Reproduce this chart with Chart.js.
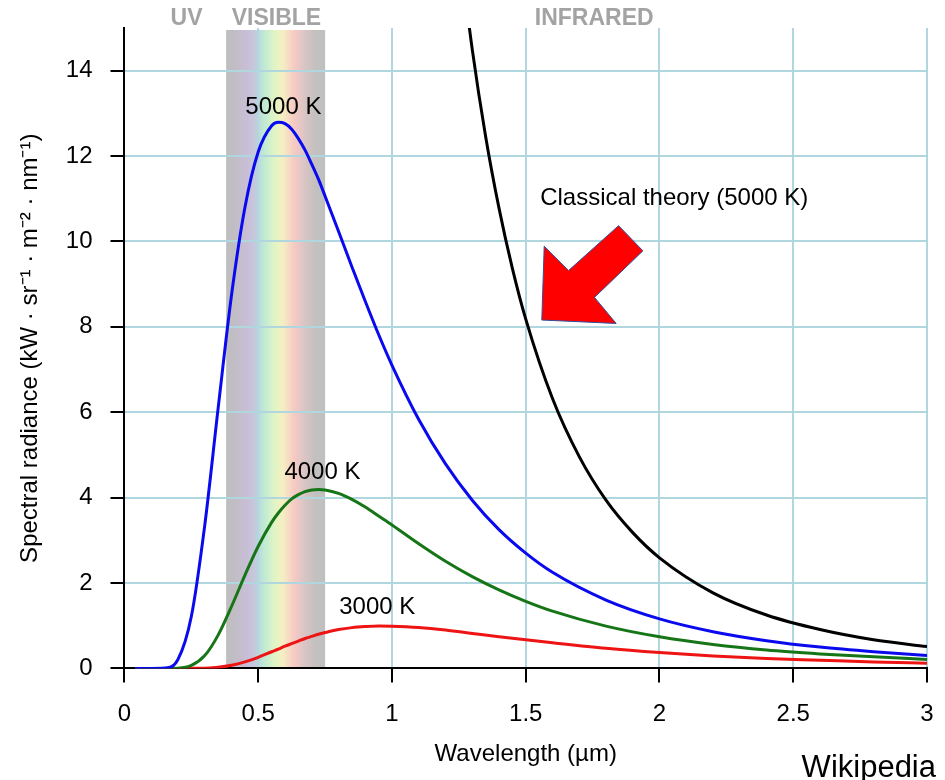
<!DOCTYPE html>
<html>
<head>
<meta charset="utf-8">
<script src="https://cdn.jsdelivr.net/npm/chart.js@4.4.0/dist/chart.umd.min.js"></script>
<style>
  html, body { margin: 0; padding: 0; background: #fff; }
</style>
</head>
<body>
<canvas id="planckChart" width="945" height="780"></canvas>
<script>
// wavelength in micrometres, radiance in kW·sr⁻¹·m⁻²·nm⁻¹
const wavelengths = [0.04, 0.1, 0.15, 0.2, 0.25, 0.3, 0.35, 0.4, 0.45, 0.5, 0.55, 0.575, 0.6, 0.625, 0.65, 0.675, 0.7, 0.725, 0.75, 0.8, 0.85, 0.9, 0.95, 1.0,
    1.1, 1.2, 1.3, 1.4, 1.5, 1.6, 1.8, 2.0, 2.2, 2.4, 2.6, 2.8, 3.0];
const radiance5000 = [0, 0, 0.007, 0.21, 1.22, 3.35, 6.09, 8.74, 10.79, 12.10, 12.71, 12.79, 12.76, 12.63, 12.41, 12.14, 11.81, 11.46, 11.06, 10.24, 9.41, 8.60, 7.82, 7.10,
    5.83, 4.79, 3.94, 3.25, 2.70, 2.25, 1.60, 1.16, 0.86, 0.65, 0.50, 0.39, 0.30];
const radiance4000 = [0, 0, 0, 0.006, 0.069, 0.30, 0.78, 1.45, 2.18, 2.86, 3.42, 3.64, 3.82, 3.97, 4.07, 4.14, 4.18, 4.193, 4.18, 4.10, 3.96, 3.78, 3.57, 3.36,
    2.92, 2.51, 2.15, 1.84, 1.57, 1.34, 0.99, 0.74, 0.56, 0.43, 0.34, 0.27, 0.21];
const radiance3000 = [0, 0, 0, 0, 0.001, 0.006, 0.025, 0.072, 0.152, 0.26, 0.39, 0.45, 0.52, 0.58, 0.64, 0.70, 0.75, 0.80, 0.84, 0.91, 0.955, 0.98, 0.994, 0.99,
    0.96, 0.90, 0.82, 0.74, 0.67, 0.60, 0.47, 0.37, 0.29, 0.23, 0.19, 0.15, 0.12];

const classicalWavelengths = [1.25, 1.3, 1.35, 1.4, 1.45, 1.5, 1.6, 1.7, 1.8, 1.9, 2.0, 2.2, 2.4, 2.6, 2.8, 3.0];
const classical5000 = [16.96, 14.50, 12.46, 10.78, 9.37, 8.18, 6.32, 4.96, 3.94, 3.18, 2.59, 1.77, 1.25, 0.91, 0.67, 0.51];

const seriesNames = ['5000 K', '4000 K', '3000 K', 'Classical theory (5000 K)'];
const bandNames = ['UV', 'VISIBLE', 'INFRARED'];
const visibleRange = [0.38, 0.75];

const fontFamily = '"Liberation Sans", Arial, sans-serif';
const gridColor = '#b0d6e0';

function toPoints(xs, ys) {
    return xs.map((x, i) => ({ x: x, y: ys[i] }));
}

const spectrumPlugin = {
    id: 'spectrum',
    beforeDraw(chart) {
        const { ctx, chartArea, scales } = chart;
        const left = scales.x.getPixelForValue(visibleRange[0]);
        const right = scales.x.getPixelForValue(visibleRange[1]);
        const grad = ctx.createLinearGradient(left, 0, right, 0);
        grad.addColorStop(0.00, '#bebebe');
        grad.addColorStop(0.08, '#c0bdc4');
        grad.addColorStop(0.22, '#c9bed8');
        grad.addColorStop(0.31, '#c2cedc');
        grad.addColorStop(0.38, '#bdead4');
        grad.addColorStop(0.48, '#def4c6');
        grad.addColorStop(0.57, '#f5f0c2');
        grad.addColorStop(0.68, '#f8cbc4');
        grad.addColorStop(0.80, '#d8c4c4');
        grad.addColorStop(0.90, '#c4c0c0');
        grad.addColorStop(1.00, '#c0bfbf');
        ctx.save();
        ctx.fillStyle = grad;
        ctx.fillRect(left, chartArea.top + 2, right - left, chartArea.bottom - chartArea.top - 2);
        ctx.restore();
    },
    afterDatasetsDraw(chart) {
        const { ctx, scales } = chart;
        const px = v => scales.x.getPixelForValue(v);
        const py = v => scales.y.getPixelForValue(v);
        ctx.save();

        // red arrow pointing at the classical curve
        const arrow = [[1.560, 8.16], [1.838, 8.08], [1.757, 8.69], [1.938, 9.78], [1.847, 10.37], [1.660, 9.32], [1.569, 9.89]];
        ctx.beginPath();
        arrow.forEach((p, i) => {
            if (i === 0) ctx.moveTo(px(p[0]), py(p[1]));
            else ctx.lineTo(px(p[0]), py(p[1]));
        });
        ctx.closePath();
        ctx.fillStyle = '#ff0000';
        ctx.fill();
        ctx.strokeStyle = '#2f4f9a';
        ctx.lineWidth = 1;
        ctx.stroke();

        ctx.fillStyle = '#000';
        ctx.font = '24px ' + fontFamily;
        ctx.textBaseline = 'middle';
        ctx.textAlign = 'center';
        ctx.fillText(seriesNames[0], px(0.594), py(13.13));
        ctx.fillText(seriesNames[1], px(0.74), py(4.59));
        ctx.fillText(seriesNames[2], px(0.945), py(1.43));
        ctx.textAlign = 'left';
        ctx.fillText(seriesNames[3], px(1.554), py(11.0));
        ctx.restore();
    },
    afterDraw(chart) {
        const { ctx, chartArea, scales } = chart;
        ctx.save();
        ctx.fillStyle = '#a3a3a3';
        ctx.font = 'bold 23px ' + fontFamily;
        ctx.textAlign = 'center';
        ctx.textBaseline = 'middle';
        const bandCenters = [0.232, 0.568, 1.756];
        bandNames.forEach((name, i) => {
            ctx.fillText(name, scales.x.getPixelForValue(bandCenters[i]), chartArea.top - 9);
        });
        ctx.fillStyle = '#000';
        ctx.font = '31px ' + fontFamily;
        ctx.textAlign = 'right';
        ctx.textBaseline = 'alphabetic';
        ctx.fillText('Wikipedia', chart.width - 9, chart.height - 3);
        ctx.restore();
    }
};

function makeLine(label, points, color) {
    return {
        label: label,
        data: points,
        borderColor: color,
        backgroundColor: color,
        borderWidth: 3,
        pointRadius: 0,
        cubicInterpolationMode: 'monotone',
        fill: false
    };
}

const data = {
    datasets: [
        makeLine(seriesNames[3], toPoints(classicalWavelengths, classical5000), '#000000'),
        makeLine(seriesNames[0], toPoints(wavelengths, radiance5000), '#0a0aee'),
        makeLine(seriesNames[1], toPoints(wavelengths, radiance4000), '#167516'),
        makeLine(seriesNames[2], toPoints(wavelengths, radiance3000), '#ee1414')
    ]
};

const config = {
    type: 'line',
    data: data,
    plugins: [spectrumPlugin],
    options: {
        responsive: false,
        animation: false,
        layout: {
            padding: { top: 28, right: 18, bottom: 11, left: 10 }
        },
        plugins: {
            legend: { display: false },
            tooltip: { enabled: false },
            title: { display: false }
        },
        scales: {
            x: {
                type: 'linear',
                min: 0,
                max: 3,
                // the last tick label fits inside the layout padding
                afterFit: axis => { axis.paddingRight = 0; },
                ticks: {
                    stepSize: 0.5,
                    color: '#000',
                    padding: 18,
                    maxRotation: 0,
                    callback: value => value.toString(),
                    font: { family: fontFamily, size: 24 }
                },
                grid: {
                    color: gridColor,
                    lineWidth: 2,
                    tickLength: 14,
                    tickColor: '#000',
                    tickWidth: 2
                },
                border: { color: '#000', width: 2 },
                title: {
                    display: true,
                    text: 'Wavelength (µm)',
                    color: '#000',
                    font: { family: fontFamily, size: 24 },
                    padding: { top: -7, bottom: 0 }
                }
            },
            y: {
                type: 'linear',
                min: 0,
                max: 15,
                afterBuildTicks: axis => {
                    axis.ticks = axis.ticks.filter(t => t.value % 2 === 0);
                },
                afterFit: axis => { axis.paddingTop = 0; },
                ticks: {
                    stepSize: 2,
                    color: '#000',
                    padding: 18,
                    font: { family: fontFamily, size: 24 }
                },
                grid: {
                    color: gridColor,
                    lineWidth: 2,
                    tickLength: 14,
                    tickColor: '#000',
                    tickWidth: 2
                },
                border: { color: '#000', width: 2 },
                title: {
                    display: true,
                    text: 'Spectral radiance (kW · sr⁻¹ · m⁻² · nm⁻¹)',
                    color: '#000',
                    font: { family: fontFamily, size: 24 },
                    padding: { top: 6, bottom: 3 }
                }
            }
        }
    }
};

const planckChart = new Chart(document.getElementById('planckChart'), config);
</script>
</body>
</html>
